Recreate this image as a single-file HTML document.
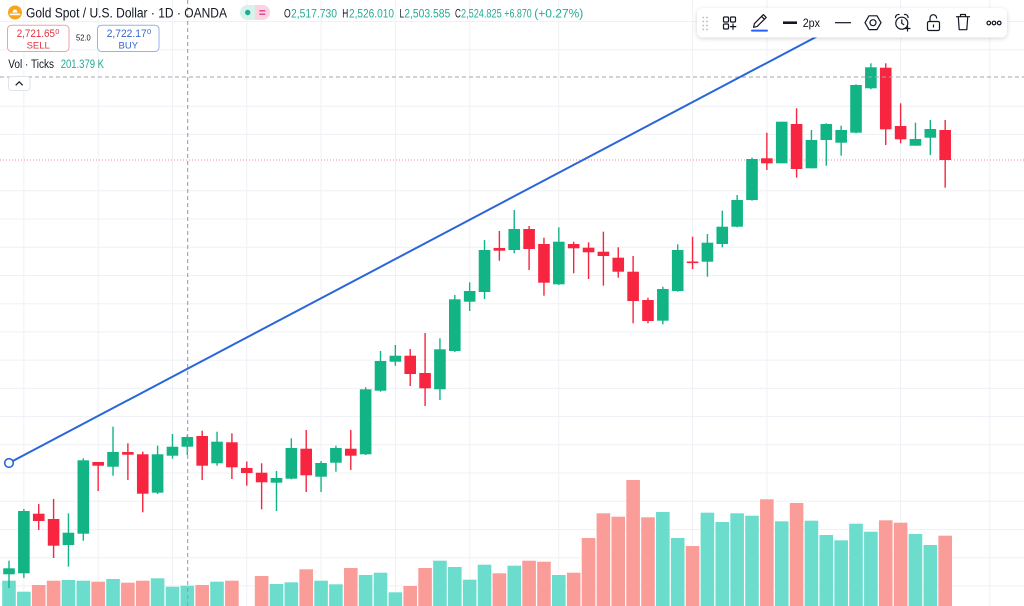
<!DOCTYPE html>
<html><head><meta charset="utf-8"><style>
html,body{margin:0;padding:0;background:#fff;}
svg{display:block;font-family:"Liberation Sans",Arial,sans-serif;}
</style></head><body>
<svg width="1024" height="606" viewBox="0 0 1024 606" xmlns="http://www.w3.org/2000/svg">
<rect width="1024" height="606" fill="#ffffff"/>
<!-- grid -->
<g stroke="#eef1f6" stroke-width="1">
<line x1="0" y1="21.5" x2="1024" y2="21.5"/><line x1="0" y1="49.7" x2="1024" y2="49.7"/><line x1="0" y1="106.2" x2="1024" y2="106.2"/><line x1="0" y1="134.4" x2="1024" y2="134.4"/><line x1="0" y1="190.8" x2="1024" y2="190.8"/><line x1="0" y1="219" x2="1024" y2="219"/><line x1="0" y1="247.3" x2="1024" y2="247.3"/><line x1="0" y1="275.5" x2="1024" y2="275.5"/><line x1="0" y1="303.7" x2="1024" y2="303.7"/><line x1="0" y1="331.9" x2="1024" y2="331.9"/><line x1="0" y1="360.1" x2="1024" y2="360.1"/><line x1="0" y1="388.4" x2="1024" y2="388.4"/><line x1="0" y1="416.6" x2="1024" y2="416.6"/><line x1="0" y1="444.8" x2="1024" y2="444.8"/><line x1="0" y1="473" x2="1024" y2="473"/><line x1="0" y1="501.2" x2="1024" y2="501.2"/><line x1="0" y1="529.5" x2="1024" y2="529.5"/><line x1="0" y1="557.7" x2="1024" y2="557.7"/><line x1="0" y1="585.9" x2="1024" y2="585.9"/>
<line x1="23.9" y1="0" x2="23.9" y2="606"/><line x1="98.2" y1="0" x2="98.2" y2="606"/><line x1="172.5" y1="0" x2="172.5" y2="606"/><line x1="246.8" y1="0" x2="246.8" y2="606"/><line x1="321.1" y1="0" x2="321.1" y2="606"/><line x1="395.4" y1="0" x2="395.4" y2="606"/><line x1="469.7" y1="0" x2="469.7" y2="606"/><line x1="558.8" y1="0" x2="558.8" y2="606"/><line x1="692.6" y1="0" x2="692.6" y2="606"/><line x1="766.9" y1="0" x2="766.9" y2="606"/><line x1="900.6" y1="0" x2="900.6" y2="606"/><line x1="989.8" y1="0" x2="989.8" y2="606"/>
</g>
<!-- volume teal -->
<g fill="#6cdccd">
<rect x="2.2" y="580.7" width="13.6" height="26"/><rect x="17.06" y="591.7" width="13.6" height="15"/><rect x="61.64" y="580" width="13.6" height="26"/><rect x="76.5" y="580.7" width="13.6" height="26"/><rect x="106.22" y="579" width="13.6" height="27"/><rect x="150.8" y="578.3" width="13.6" height="28"/><rect x="165.66" y="586.7" width="13.6" height="20"/><rect x="180.52" y="585.7" width="13.6" height="21"/><rect x="210.24" y="581.7" width="13.6" height="25"/>
<rect x="269.68" y="584" width="13.6" height="22"/><rect x="284.54" y="582.3" width="13.6" height="24"/><rect x="314.26" y="580.7" width="13.6" height="26"/><rect x="329.12" y="584.3" width="13.6" height="22"/><rect x="358.84" y="575" width="13.6" height="31"/><rect x="373.7" y="572.7" width="13.6" height="34"/><rect x="388.56" y="592.3" width="13.6" height="14"/><rect x="433.14" y="560.7" width="13.6" height="46"/><rect x="448" y="567" width="13.6" height="39"/><rect x="462.86" y="579.7" width="13.6" height="27"/><rect x="477.72" y="564.7" width="13.6" height="42"/><rect x="507.44" y="565.7" width="13.6" height="41"/><rect x="552.02" y="575" width="13.6" height="31"/>
<rect x="656.04" y="512" width="13.6" height="94"/><rect x="670.9" y="538" width="13.6" height="68"/><rect x="700.62" y="512.7" width="13.6" height="94"/><rect x="715.48" y="522" width="13.6" height="84"/><rect x="730.34" y="513.3" width="13.6" height="93"/><rect x="745.2" y="515.7" width="13.6" height="91"/><rect x="774.92" y="521.3" width="13.6" height="85"/><rect x="804.64" y="520.7" width="13.6" height="86"/><rect x="819.5" y="535" width="13.6" height="71"/><rect x="834.36" y="540.3" width="13.6" height="66"/><rect x="849.22" y="523.7" width="13.6" height="83"/><rect x="864.08" y="531.7" width="13.6" height="75"/><rect x="908.66" y="534" width="13.6" height="72"/><rect x="923.52" y="545" width="13.6" height="61"/>
</g>
<!-- volume red -->
<g fill="#fa9c98">
<rect x="31.92" y="585" width="13.6" height="21"/><rect x="46.78" y="580.7" width="13.6" height="26"/><rect x="91.36" y="581.7" width="13.6" height="25"/><rect x="121.08" y="582.7" width="13.6" height="24"/><rect x="135.94" y="580.7" width="13.6" height="26"/><rect x="195.38" y="585" width="13.6" height="21"/><rect x="225.1" y="580.7" width="13.6" height="26"/>
<rect x="254.82" y="576" width="13.6" height="30"/><rect x="299.4" y="569.3" width="13.6" height="37"/><rect x="343.98" y="568" width="13.6" height="38"/><rect x="403.42" y="586" width="13.6" height="20"/><rect x="418.28" y="568" width="13.6" height="38"/><rect x="492.58" y="573.3" width="13.6" height="33"/><rect x="522.3" y="560.7" width="13.6" height="46"/><rect x="537.16" y="561.7" width="13.6" height="45"/><rect x="566.88" y="572.7" width="13.6" height="34"/>
<rect x="581.74" y="538" width="13.6" height="68"/><rect x="596.6" y="513.3" width="13.6" height="93"/><rect x="611.46" y="516.7" width="13.6" height="90"/><rect x="626.32" y="480" width="13.6" height="126"/><rect x="641.18" y="517.3" width="13.6" height="89"/><rect x="685.76" y="546" width="13.6" height="60"/><rect x="760.06" y="499.3" width="13.6" height="107"/><rect x="789.78" y="503" width="13.6" height="103"/><rect x="878.94" y="520.3" width="13.6" height="86"/><rect x="893.8" y="522.7" width="13.6" height="84"/><rect x="938.38" y="535.7" width="13.6" height="71"/>
</g>
<!-- price line -->
<line x1="0" y1="160" x2="1024" y2="160" stroke="#f08a98" stroke-width="1" stroke-dasharray="1 2"/>
<!-- green candles -->
<g fill="#12b486">
<rect x="8.3" y="560.7" width="1.4" height="27.3"/><rect x="3.2" y="568.3" width="11.6" height="6"/>
<rect x="23.16" y="509" width="1.4" height="69"/><rect x="18.06" y="511" width="11.6" height="62.3"/>
<rect x="67.74" y="513.3" width="1.4" height="53.4"/><rect x="62.64" y="532.7" width="11.6" height="12.3"/>
<rect x="82.6" y="458.3" width="1.4" height="82.4"/><rect x="77.5" y="460.3" width="11.6" height="73.4"/>
<rect x="112.32" y="426.7" width="1.4" height="49"/><rect x="107.22" y="452" width="11.6" height="14.7"/>
<rect x="156.9" y="445.7" width="1.4" height="48.3"/><rect x="151.8" y="454.3" width="11.6" height="38.4"/>
<rect x="171.76" y="434" width="1.4" height="24.7"/><rect x="166.66" y="446.7" width="11.6" height="9"/>
<rect x="186.62" y="435" width="1.4" height="20"/><rect x="181.52" y="437" width="11.6" height="9.7"/>
<rect x="216.34" y="431.7" width="1.4" height="34"/><rect x="211.24" y="441.7" width="11.6" height="21.6"/>
<rect x="275.78" y="471" width="1.4" height="40"/><rect x="270.68" y="478" width="11.6" height="4.7"/>
<rect x="290.64" y="438.3" width="1.4" height="41"/><rect x="285.54" y="448" width="11.6" height="30.7"/>
<rect x="320.36" y="461" width="1.4" height="31"/><rect x="315.26" y="463" width="11.6" height="13.7"/>
<rect x="335.22" y="445.7" width="1.4" height="26"/><rect x="330.12" y="448" width="11.6" height="14.7"/>
<rect x="364.94" y="387.3" width="1.4" height="67.7"/><rect x="359.84" y="389.3" width="11.6" height="65"/>
<rect x="379.8" y="351" width="1.4" height="40.7"/><rect x="374.7" y="361" width="11.6" height="29.7"/>
<rect x="394.66" y="345" width="1.4" height="20.7"/><rect x="389.56" y="355.7" width="11.6" height="6"/>
<rect x="439.24" y="338.3" width="1.4" height="61.7"/><rect x="434.14" y="349.3" width="11.6" height="40"/>
<rect x="454.1" y="295" width="1.4" height="57"/><rect x="449" y="299.3" width="11.6" height="51.7"/>
<rect x="468.96" y="282.3" width="1.4" height="28.7"/><rect x="463.86" y="291" width="11.6" height="10.7"/>
<rect x="483.82" y="240" width="1.4" height="59"/><rect x="478.72" y="250" width="11.6" height="42"/>
<rect x="513.54" y="210" width="1.4" height="43.3"/><rect x="508.44" y="229" width="11.6" height="21"/>
<rect x="558.12" y="227.3" width="1.4" height="57.7"/><rect x="553.02" y="241.7" width="11.6" height="42.6"/>
<rect x="662.14" y="286.7" width="1.4" height="37.6"/><rect x="657.04" y="289" width="11.6" height="31.7"/>
<rect x="677" y="244.3" width="1.4" height="47.4"/><rect x="671.9" y="250" width="11.6" height="41"/>
<rect x="706.72" y="234" width="1.4" height="42.7"/><rect x="701.62" y="242.7" width="11.6" height="19"/>
<rect x="721.58" y="210.7" width="1.4" height="36.6"/><rect x="716.48" y="226.7" width="11.6" height="17.3"/>
<rect x="736.44" y="195" width="1.4" height="32.3"/><rect x="731.34" y="200" width="11.6" height="26.7"/>
<rect x="751.3" y="157.7" width="1.4" height="43"/><rect x="746.2" y="159" width="11.6" height="41"/>
<rect x="781.02" y="121.7" width="1.4" height="41.6"/><rect x="775.92" y="121.7" width="11.6" height="41.6"/>
<rect x="810.74" y="130" width="1.4" height="38.3"/><rect x="805.64" y="140" width="11.6" height="28.3"/>
<rect x="825.6" y="123.3" width="1.4" height="42.4"/><rect x="820.5" y="124" width="11.6" height="16"/>
<rect x="840.46" y="125.7" width="1.4" height="30"/><rect x="835.36" y="130" width="11.6" height="12.7"/>
<rect x="855.32" y="84.3" width="1.4" height="49"/><rect x="850.22" y="85" width="11.6" height="47.7"/>
<rect x="870.18" y="63.3" width="1.4" height="26"/><rect x="865.08" y="67.3" width="11.6" height="21"/>
<rect x="914.76" y="122.7" width="1.4" height="23"/><rect x="909.66" y="139" width="11.6" height="6.7"/>
<rect x="929.62" y="120" width="1.4" height="35"/><rect x="924.52" y="129" width="11.6" height="8.7"/>
</g>
<!-- red candles -->
<g fill="#f7253f">
<rect x="38.02" y="504" width="1.4" height="26"/><rect x="32.92" y="513.7" width="11.6" height="7.3"/>
<rect x="52.88" y="499" width="1.4" height="59"/><rect x="47.78" y="519" width="11.6" height="26.7"/>
<rect x="97.46" y="462" width="1.4" height="29"/><rect x="92.36" y="462" width="11.6" height="3.7"/>
<rect x="127.18" y="443.3" width="1.4" height="36.7"/><rect x="122.08" y="452" width="11.6" height="2.7"/>
<rect x="142.04" y="451.7" width="1.4" height="60.6"/><rect x="136.94" y="454.3" width="11.6" height="39.4"/>
<rect x="201.48" y="430.7" width="1.4" height="49.3"/><rect x="196.38" y="436" width="11.6" height="29.7"/>
<rect x="231.2" y="433.3" width="1.4" height="45.7"/><rect x="226.1" y="442.3" width="11.6" height="25"/>
<rect x="246.06" y="461.5" width="1.4" height="24.2"/><rect x="240.96" y="468" width="11.6" height="5"/>
<rect x="260.92" y="463.3" width="1.4" height="46"/><rect x="255.82" y="472.7" width="11.6" height="9.6"/>
<rect x="305.5" y="430" width="1.4" height="62"/><rect x="300.4" y="448.7" width="11.6" height="26.6"/>
<rect x="350.08" y="430" width="1.4" height="40"/><rect x="344.98" y="448.7" width="11.6" height="7"/>
<rect x="409.52" y="349" width="1.4" height="37"/><rect x="404.42" y="355.7" width="11.6" height="18.3"/>
<rect x="424.38" y="333" width="1.4" height="73"/><rect x="419.28" y="373" width="11.6" height="15.3"/>
<rect x="498.68" y="231" width="1.4" height="29.7"/><rect x="493.58" y="248" width="11.6" height="2.7"/>
<rect x="528.4" y="226" width="1.4" height="44"/><rect x="523.3" y="229" width="11.6" height="20"/>
<rect x="543.26" y="237.7" width="1.4" height="58"/><rect x="538.16" y="244" width="11.6" height="38.7"/>
<rect x="572.98" y="241.7" width="1.4" height="31.6"/><rect x="567.88" y="244" width="11.6" height="4.3"/>
<rect x="587.84" y="242.3" width="1.4" height="36.7"/><rect x="582.74" y="247.7" width="11.6" height="4.6"/>
<rect x="602.7" y="231.7" width="1.4" height="54"/><rect x="597.6" y="251.7" width="11.6" height="4.3"/>
<rect x="617.56" y="247.3" width="1.4" height="30.4"/><rect x="612.46" y="257.7" width="11.6" height="14"/>
<rect x="632.42" y="256" width="1.4" height="67.3"/><rect x="627.32" y="271.7" width="11.6" height="29.3"/>
<rect x="647.28" y="297.7" width="1.4" height="25.6"/><rect x="642.18" y="300" width="11.6" height="21"/>
<rect x="691.86" y="236.7" width="1.4" height="32.3"/><rect x="686.76" y="261.5" width="11.6" height="1.6"/>
<rect x="766.16" y="132.7" width="1.4" height="37.3"/><rect x="761.06" y="158.3" width="11.6" height="5"/>
<rect x="795.88" y="108.3" width="1.4" height="69.4"/><rect x="790.78" y="124" width="11.6" height="45"/>
<rect x="885.04" y="63.3" width="1.4" height="81.7"/><rect x="879.94" y="67.7" width="11.6" height="61.6"/>
<rect x="899.9" y="103.3" width="1.4" height="40"/><rect x="894.8" y="126" width="11.6" height="13.3"/>
<rect x="944.48" y="120" width="1.4" height="67.7"/><rect x="939.38" y="130" width="11.6" height="30"/>
</g>
<!-- crosshair -->
<line x1="187.7" y1="0" x2="187.7" y2="606" stroke="#9598a1" stroke-width="1" stroke-dasharray="4 3"/>
<line x1="0" y1="77" x2="1024" y2="77" stroke="#a3a6ae" stroke-width="1" stroke-dasharray="4 3"/>
<!-- trend line -->
<line x1="9" y1="463" x2="850" y2="19" stroke="#2a66d9" stroke-width="2"/>
<circle cx="9" cy="463" r="4.3" fill="#ffffff" stroke="#2a66d9" stroke-width="1.6"/>
<!-- header -->
<circle cx="15" cy="12.5" r="7" fill="#f7a51c"/>
<path d="M12.3 12.6 L13.6 9.6 H16.4 L17.7 12.6 Z" fill="#fff"/>
<rect x="9.8" y="13.6" width="10.4" height="1.6" fill="#fff"/>
<text x="26" y="17.5" font-size="13.5" fill="#131722" textLength="201" lengthAdjust="spacingAndGlyphs">Gold Spot / U.S. Dollar · 1D · OANDA</text>
<rect x="240" y="5" width="30" height="15" rx="7.5" fill="#d6f2ea"/>
<path d="M255 5 H262.5 A7.5 7.5 0 0 1 262.5 20 H255 Z" fill="#fbd3e1"/>
<circle cx="247.7" cy="12.5" r="2.7" fill="#22ab94"/>
<line x1="259.3" y1="10.8" x2="265.3" y2="10.8" stroke="#e33c8d" stroke-width="1.4"/>
<line x1="259.3" y1="14.2" x2="265.3" y2="14.2" stroke="#e33c8d" stroke-width="1.4"/>
<g font-size="11.5">
<text x="284" y="17.5" fill="#131722" textLength="6.7" lengthAdjust="spacingAndGlyphs">O</text>
<text x="291" y="17.5" fill="#22ab94" textLength="46" lengthAdjust="spacingAndGlyphs">2,517.730</text>
<text x="342.3" y="17.5" fill="#131722" textLength="6" lengthAdjust="spacingAndGlyphs">H</text>
<text x="349" y="17.5" fill="#22ab94" textLength="45" lengthAdjust="spacingAndGlyphs">2,526.010</text>
<text x="399.5" y="17.5" fill="#131722" textLength="4.5" lengthAdjust="spacingAndGlyphs">L</text>
<text x="404.3" y="17.5" fill="#22ab94" textLength="46" lengthAdjust="spacingAndGlyphs">2,503.585</text>
<text x="455" y="17.5" fill="#131722" textLength="5.8" lengthAdjust="spacingAndGlyphs">C</text>
<text x="461" y="17.5" fill="#22ab94" textLength="40.7" lengthAdjust="spacingAndGlyphs">2,524.825</text>
<text x="504.3" y="17.5" fill="#22ab94" textLength="27.4" lengthAdjust="spacingAndGlyphs">+6.870</text>
<text x="534.3" y="17.5" fill="#22ab94" textLength="49" lengthAdjust="spacingAndGlyphs">(+0.27%)</text>
</g>
<!-- sell / buy -->
<rect x="7.5" y="25.2" width="61.5" height="26.3" rx="4" fill="#fff" stroke="#eba3ac" stroke-width="1"/>
<text x="16.7" y="37" font-size="11" fill="#e0323f" textLength="38.3" lengthAdjust="spacingAndGlyphs">2,721.65</text>
<text x="55.3" y="34" font-size="7.5" fill="#e0323f">0</text>
<text x="38.2" y="48.3" font-size="9.5" fill="#e0323f" text-anchor="middle">SELL</text>
<text x="76" y="40.5" font-size="8" fill="#131722" textLength="14.7" lengthAdjust="spacingAndGlyphs">52.0</text>
<rect x="97.5" y="25.2" width="61.5" height="26.3" rx="4" fill="#fff" stroke="#98b3e2" stroke-width="1"/>
<text x="106.7" y="37" font-size="11" fill="#3467d0" textLength="40" lengthAdjust="spacingAndGlyphs">2,722.17</text>
<text x="147" y="34" font-size="7.5" fill="#3467d0">0</text>
<text x="128.3" y="48.3" font-size="9.5" fill="#3467d0" text-anchor="middle">BUY</text>
<text x="8.3" y="68" font-size="11.5" fill="#131722" textLength="45.7" lengthAdjust="spacingAndGlyphs">Vol · Ticks</text>
<text x="60.7" y="68" font-size="11.5" fill="#22ab94" textLength="43.3" lengthAdjust="spacingAndGlyphs">201.379 K</text>
<rect x="8.5" y="76.5" width="21.5" height="14" rx="3" fill="#fff" stroke="#e0e3eb" stroke-width="1"/>
<polyline points="15.7,85.3 19.2,81.8 22.7,85.3" fill="none" stroke="#131722" stroke-width="1.2"/>
<!-- toolbar -->
<defs><filter id="sh" x="-10%" y="-50%" width="120%" height="200%"><feDropShadow dx="0" dy="1" stdDeviation="2" flood-color="#000" flood-opacity="0.18"/></filter></defs>
<rect x="697" y="8.3" width="310" height="29.2" rx="6" fill="#fff" filter="url(#sh)"/>
<g fill="#b7bac2">
<circle cx="703.3" cy="17.5" r="0.9"/><circle cx="707" cy="17.5" r="0.9"/><circle cx="703.3" cy="21.5" r="0.9"/><circle cx="707" cy="21.5" r="0.9"/><circle cx="703.3" cy="25.5" r="0.9"/><circle cx="707" cy="25.5" r="0.9"/><circle cx="703.3" cy="29.5" r="0.9"/><circle cx="707" cy="29.5" r="0.9"/>
</g>
<g fill="none" stroke="#131722" stroke-width="1.2" stroke-linecap="round" stroke-linejoin="round">
<rect x="723.5" y="17" width="5" height="5" rx="1"/><rect x="730.5" y="17" width="5" height="5" rx="1"/><rect x="723.5" y="24" width="5" height="5" rx="1"/>
<line x1="733" y1="24" x2="733" y2="29.3"/><line x1="730.4" y1="26.6" x2="735.7" y2="26.6"/>
<path d="M753.6 27.3 L754.4 23.6 L763.4 14.6 L766.2 17.4 L757.2 26.4 Z"/><line x1="761.6" y1="16.4" x2="764.4" y2="19.2"/>
<line x1="783" y1="22.7" x2="797" y2="22.7" stroke-width="2.6" stroke-linecap="butt"/>
<line x1="835" y1="22.7" x2="851" y2="22.7" stroke-linecap="butt"/>
<path d="M881 22.7 L877 15.8 L869 15.8 L865 22.7 L869 29.6 L877 29.6 Z"/><circle cx="873" cy="22.7" r="3"/>
<circle cx="901.8" cy="23.2" r="6"/><path d="M895.5 17.5 a3 3 0 0 1 3.5 -3"/><path d="M904.6 14.5 a3 3 0 0 1 3.5 3"/><polyline points="901.8,19.8 901.8,23.4 903.8,24.6"/><line x1="907.5" y1="26" x2="907.5" y2="31"/><line x1="905" y1="28.5" x2="910" y2="28.5"/>
<rect x="927.5" y="21.5" width="12" height="9" rx="1.5"/><path d="M930 21.5 V18 a3.3 3.3 0 0 1 6.6 0"/><line x1="933.5" y1="25" x2="933.5" y2="27"/>
<line x1="956.5" y1="16.7" x2="969.5" y2="16.7"/><path d="M960.5 16.5 V14.5 H965.5 V16.5"/><path d="M958.3 17 L959.2 29.7 H966.8 L967.7 17"/>
<circle cx="988.8" cy="23" r="1.8"/><circle cx="994" cy="23" r="1.8"/><circle cx="999.2" cy="23" r="1.8"/>
</g>
<rect x="751" y="29.6" width="17" height="2" rx="1" fill="#2962ff"/>
<text x="802.7" y="27" font-size="12" fill="#131722" textLength="17.3" lengthAdjust="spacingAndGlyphs">2px</text>
</svg>
</body></html>
